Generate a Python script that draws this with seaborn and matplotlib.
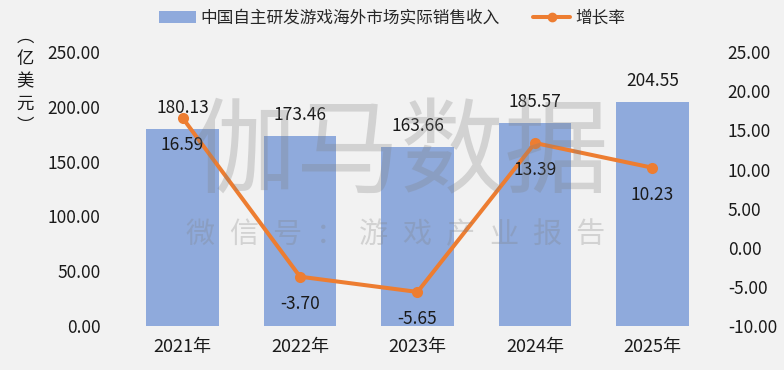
import matplotlib
matplotlib.use("Agg")
import matplotlib.pyplot as plt
import seaborn as sns
import pandas as pd
from matplotlib.lines import Line2D
from matplotlib.patches import Patch

years = ["2021年", "2022年", "2023年", "2024年", "2025年"]
revenue = [180.13, 173.46, 163.66, 185.57, 204.55]
growth = [16.59, -3.70, -5.65, 13.39, 10.23]
left_ticks = [0, 50, 100, 150, 200, 250]
right_ticks = [-10, -5, 0, 5, 10, 15, 20, 25]

bar_label = "中国自主研发游戏海外市场实际销售收入"
line_label = "增长率"
unit_label = "︵\n亿\n美\n元\n︶"
wm_big = "伽马数据"
wm_small = "微信号：游戏产业报告"

sns.set_theme(style="white")
plt.rcParams['font.family'] = ['Noto Sans CJK SC', 'DejaVu Sans']
plt.rcParams['axes.unicode_minus'] = False

BG = "#f2f2f2"
BAR = "#8faadc"
LINE = "#ed7d31"
TXT = "#1a1a1a"
FS = 12.5

fig = plt.figure(figsize=(7.84, 3.70), dpi=100, facecolor=BG)
ax = fig.add_axes([0.158, 0.119, 0.749, 0.740])
ax.set_facecolor(BG)

df = pd.DataFrame({"year": years, "revenue": revenue, "growth": growth})
sns.barplot(data=df, x="year", y="revenue", color=BAR, saturation=1, width=0.62,
            linewidth=0, edgecolor="none", ax=ax)
ax.set_ylim(0, 250)
ax.set_xlim(-0.5, 4.5)
ax.set_yticks(left_ticks)
ax.set_yticklabels([f"{v:.2f}" for v in left_ticks], fontsize=FS, color=TXT)
ax.set_xlabel("")
ax.set_ylabel("")
ax.tick_params(axis='x', labelsize=13, colors=TXT, length=0, pad=9)
ax.tick_params(axis='y', length=0, pad=17)
for s in ax.spines.values():
    s.set_visible(False)

for i, v in enumerate(revenue):
    ax.text(i, v + 19, f"{v:.2f}", ha="center", va="center", fontsize=FS, color=TXT)

ax2 = ax.twinx()
ax2.set_ylim(-10, 25)
sns.lineplot(x=list(range(len(years))), y=growth, color=LINE, linewidth=2.9,
             marker="o", markersize=8, markeredgewidth=0, ax=ax2)
ax2.set_yticks(right_ticks)
ax2.set_yticklabels([f"{v:.2f}" for v in right_ticks], fontsize=FS, color=TXT)
ax2.tick_params(axis='y', length=0, pad=12)
for s in ax2.spines.values():
    s.set_visible(False)
for i, v in enumerate(growth):
    ax2.text(i, v - 3.5, f"{v:.2f}", ha="center", va="center", fontsize=FS, color=TXT)

# y-axis unit label (vertical stacked)
fig.text(0.032, 0.78, unit_label, ha="center", va="center", fontsize=12.5,
         color=TXT, linespacing=1.3)

# watermark
fig.text(0.51, 0.58, wm_big, ha="center", va="center", fontsize=75,
         color="#808080", alpha=0.28, zorder=10)
n = len(wm_small)
x0, x1 = 200 / 784, 590 / 784
for k, ch in enumerate(wm_small):
    fig.text(x0 + (x1 - x0) * k / (n - 1), 0.365, ch, ha="center", va="center",
             fontsize=21, color="#808080", alpha=0.28, zorder=10)

handles = [Patch(facecolor=BAR, edgecolor="none"),
           Line2D([0], [0], color=LINE, linewidth=2.9, marker="o", markersize=6)]
fig.legend(handles, [bar_label, line_label], loc="center", bbox_to_anchor=(0.5, 0.95),
           ncol=2, frameon=False, fontsize=12, handlelength=2.2, columnspacing=2.0,
           handletextpad=0.3)

fig.savefig("out.png", dpi=100, facecolor=BG)
